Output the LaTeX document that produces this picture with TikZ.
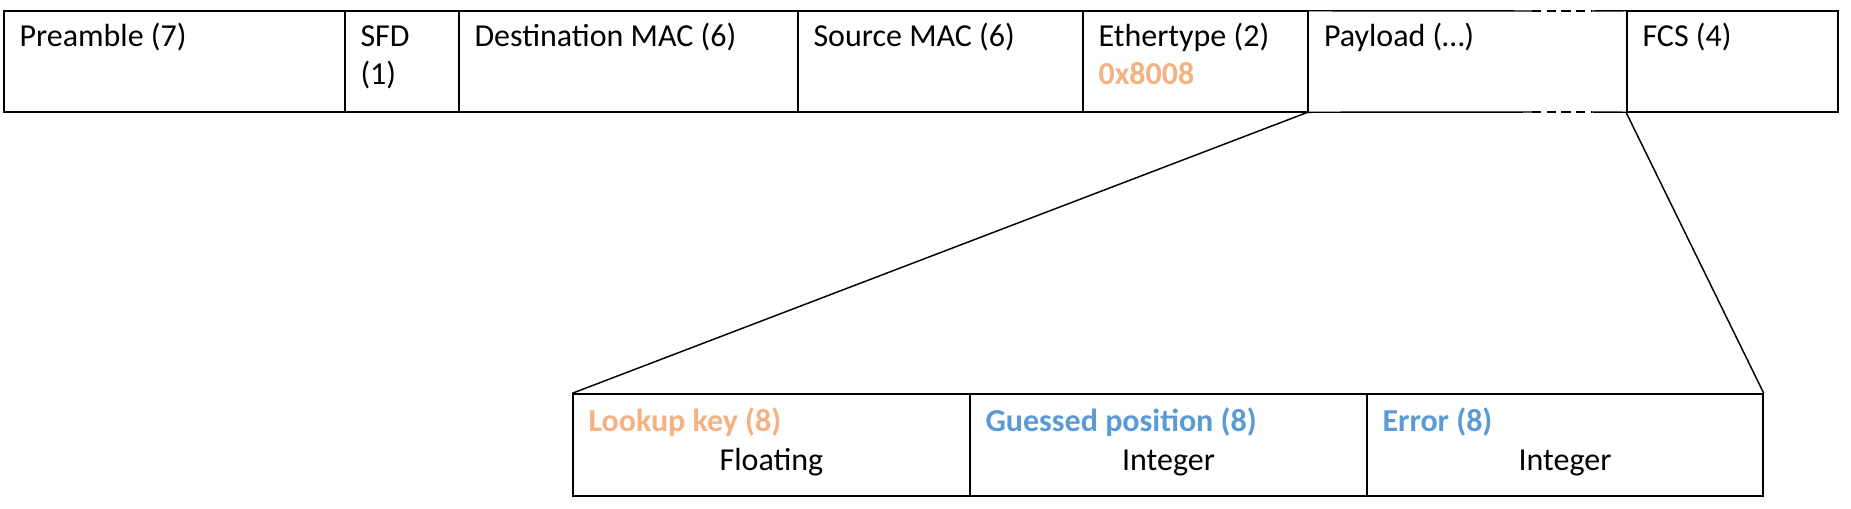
\documentclass[tikz,border=0pt]{standalone}
\usepackage{fontspec}
\setmainfont{Carlito}
\usetikzlibrary{fit,calc}
\definecolor{orng}{HTML}{F4B183}
\definecolor{blu}{HTML}{5B9BD5}
\begin{document}
\begin{tikzpicture}[x=0.75pt,y=-0.75pt,
  field/.style={draw, line width=1.1pt, inner sep=0pt},
  openfield/.style={inner sep=0pt},
  wire/.style={line width=1.1pt},
  gap/.style={wire, dash pattern=on 7pt off 4pt},
  txt/.style={font=\fontsize{24}{29}\selectfont, inner sep=0pt, anchor=base west},
  boldtxt/.style={txt, font=\fontsize{24}{29}\selectfont\bfseries},
  ctxt/.style={txt, anchor=base},
]
\useasboundingbox (0,0) rectangle (1851,508);
% top frame
\node[field, fit={(4,11) (345,112)}] (pre) {};
\node[field, fit={(345,11) (459,112)}] (sfd) {};
\node[field, fit={(459,11) (798,112)}] (dst) {};
\node[field, fit={(798,11) (1083,112)}] (src) {};
\node[field, fit={(1083,11) (1308,112)}] (eth) {};
\node[openfield, fit={(1308,11) (1627,112)}] (pay) {};
\node[field, fit={(1627,11) (1838,112)}] (fcs) {};
\coordinate (pdt1) at (1532,11);
\coordinate (pdt2) at (1592,11);
\coordinate (pdb1) at (1532,112);
\coordinate (pdb2) at (1592,112);
\draw[wire] (pay.north west) -- (pdt1);
\draw[gap] (pdt1) -- (pdt2);
\draw[wire] (pdt2) -- (pay.north east);
\draw[wire] (pay.south west) -- (pdb1);
\draw[gap] (pdb1) -- (pdb2);
\draw[wire] (pdb2) -- (pay.south east);
% top texts
\node[txt] (tpre) at ($(pre.north west)+(16,36)$) {Preamble (7)};
\node[txt] (tsfd1) at ($(sfd.north west)+(16,36)$) {SFD};
\node[txt] (tsfd2) at ($(sfd.north west)+(16,74)$) {(1)};
\node[txt] (tdst) at ($(dst.north west)+(16,36)$) {Destination MAC (6)};
\node[txt] (tsrc) at ($(src.north west)+(16,36)$) {Source MAC (6)};
\node[txt] (teth) at ($(eth.north west)+(16,36)$) {Ethertype (2)};
\node[boldtxt, text=orng] (teth2) at ($(eth.north west)+(16,74)$) {0x8008};
\node[txt] (tpay) at ($(pay.north west)+(16,36)$) {Payload (\ldots)};
\node[txt] (tfcs) at ($(fcs.north west)+(16,36)$) {FCS (4)};
% bottom frame
\node[field, fit={(573,394) (970,496)}] (lk) {};
\node[field, fit={(970,394) (1367,496)}] (gp) {};
\node[field, fit={(1367,394) (1763,496)}] (er) {};
\node[boldtxt, text=orng] (tlk) at ($(lk.north west)+(16,38)$) {Lookup key (8)};
\node[ctxt] (tlk2) at ($(lk.north)+(0,77)$) {Floating};
\node[boldtxt, text=blu] (tgp) at ($(gp.north west)+(16,38)$) {Guessed position (8)};
\node[ctxt] (tgp2) at ($(gp.north)+(0,77)$) {Integer};
\node[boldtxt, text=blu] (ter) at ($(er.north west)+(16,38)$) {Error (8)};
\node[ctxt] (ter2) at ($(er.north)+(0,77)$) {Integer};
% connectors
\draw[wire] (pay.south west) -- (lk.north west);
\draw[wire] (fcs.south west) -- (er.north east);
\end{tikzpicture}
\end{document}
